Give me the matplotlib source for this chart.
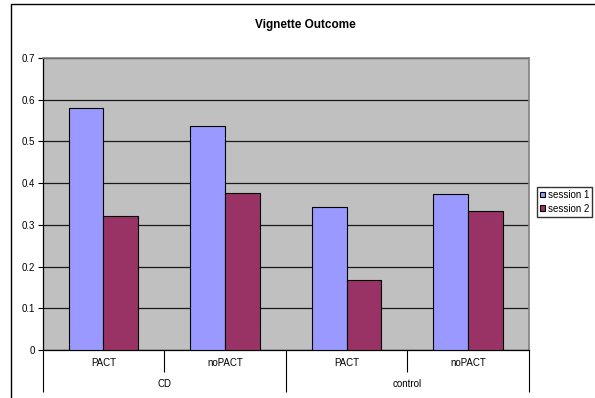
import numpy as np
import matplotlib
matplotlib.use("Agg")
import matplotlib.pyplot as plt
from matplotlib.patches import Rectangle
from matplotlib.transforms import blended_transform_factory

plt.rcParams["font.family"] = ["Liberation Sans", "DejaVu Sans"]

# Datos
condicion = ["PACT", "noPACT", "PACT", "noPACT"]
grupos = ["CD", "control"]
sesion1 = [0.58, 0.537, 0.344, 0.373]
sesion2 = [0.322, 0.376, 0.167, 0.333]
series = ["session 1", "session 2"]
y_ticks = [0, 0.1, 0.2, 0.3, 0.4, 0.5, 0.6, 0.7]

fig = plt.figure(figsize=(5.95, 3.98), dpi=100)
ax = fig.add_axes([42.7 / 595, 1 - 350 / 398, (529 - 42.7) / 595, (350 - 58) / 398])

x = np.arange(len(condicion))
ancho = 1 / 3.5
ax.bar(x - ancho / 2, sesion1, ancho, color="#9999FF", edgecolor="black", linewidth=0.8,
       label=series[0], zorder=3)
ax.bar(x + ancho / 2, sesion2, ancho, color="#993366", edgecolor="black", linewidth=0.8,
       label=series[1], zorder=3)

ax.set_facecolor("#C0C0C0")
ax.set_xlim(-0.5, 3.5)
ax.set_ylim(0, 0.7)
ax.set_yticks(y_ticks)
ax.set_yticklabels([f"{v:g}" for v in y_ticks], fontsize=7)
ax.yaxis.grid(True, color="#1a1a1a", linewidth=0.9, zorder=1)
ax.set_axisbelow(True)
ax.tick_params(axis="y", length=3.6, width=0.8, pad=2)

# Ejes x con dos niveles
ax.set_xticks([-0.5, 1.5, 3.5])
ax.set_xticklabels([])
ax.set_xticks([0.5, 2.5], minor=True)
ax.tick_params(axis="x", which="major", length=30, width=0.8)
ax.tick_params(axis="x", which="minor", length=15.6, width=0.8)

trans = blended_transform_factory(ax.transData, ax.transAxes)
for i, c in enumerate(condicion):
    ax.text(i, -13 / 292, c, transform=trans, ha="center", va="center", fontsize=7)
for j, g in enumerate(grupos):
    ax.text(0.5 + 2 * j, -34 / 292, g, transform=trans, ha="center", va="center", fontsize=7)

for lado in ["left", "bottom"]:
    ax.spines[lado].set_color("black")
    ax.spines[lado].set_linewidth(0.9)
for lado in ["top", "right"]:
    ax.spines[lado].set_color("#808080")
    ax.spines[lado].set_linewidth(1.2)

fig.text(305.5 / 595, 1 - 25 / 398, "Vignette Outcome", ha="center", va="center",
         fontsize=8.5, fontweight="bold")

fig.legend(loc="upper left", bbox_to_anchor=(537 / 595, 1 - 187 / 398), fontsize=7,
           frameon=True, fancybox=False, edgecolor="black", handlelength=0.55,
           handleheight=0.55, handletextpad=0.25, borderpad=0.3, labelspacing=0.4,
           borderaxespad=0)

# Marco exterior
fig.patches.append(Rectangle((11 / 595, -0.1), 1.2, 1.1 - 4 / 398, transform=fig.transFigure,
                             fill=False, edgecolor="black", linewidth=1.0))

plt.savefig("out.png", dpi=100)
